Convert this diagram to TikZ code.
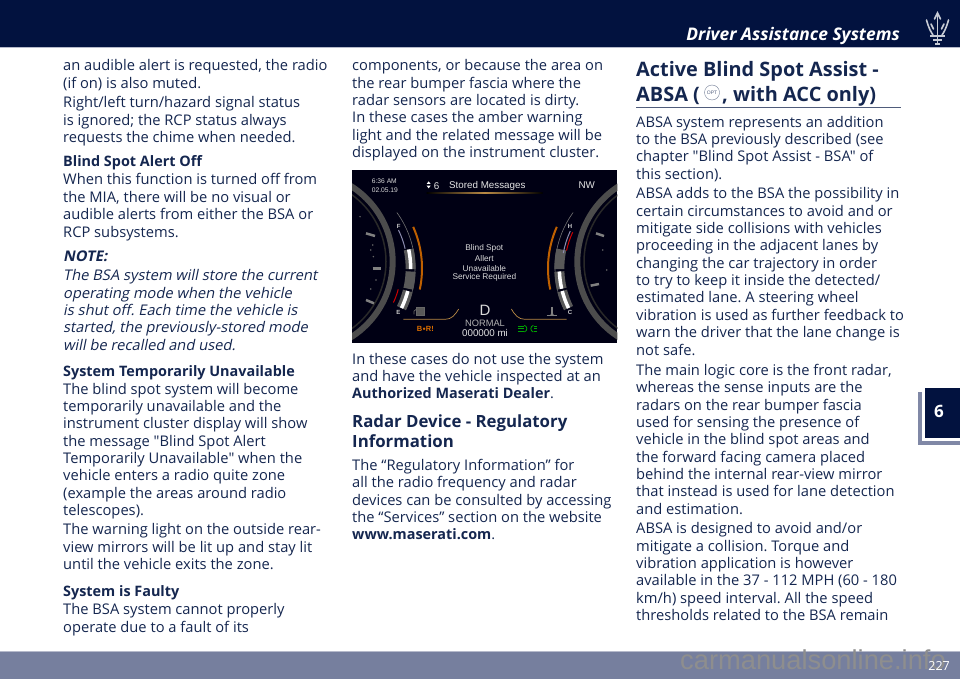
\documentclass[tikz,border=0pt]{standalone}
\usepackage{fontspec}
\setmainfont{Open Sans}[Ligatures=TeXOff]
\newfontfamily\slantfont{Open Sans}[Ligatures=TeXOff,FakeSlant=0.2]
\newfontfamily\clusterfont{Liberation Sans}
\definecolor{navy}{HTML}{02123F}
\definecolor{ink}{HTML}{14264F}
\definecolor{band}{HTML}{767F9E}
\definecolor{bandlight}{HTML}{B6BACB}
\definecolor{shadowtab}{HTML}{8088A6}
\definecolor{amberline}{HTML}{B98A45}
\definecolor{markgrey}{HTML}{8E8E8E}
\newcounter{tl}
\newcommand{\bodyline}[3]{\stepcounter{tl}\node[bodytext] (tl\arabic{tl}) at (#1,#2) {#3};}
\tikzset{
  every node/.append style={execute at begin node=\frenchspacing},
  bodytext/.style={anchor=base west,inner sep=0pt,text=ink,font=\fontsize{14.7}{16}\selectfont},
  subhead/.style={bodytext,font=\fontsize{14.4}{16}\selectfont\bfseries},
  headbig/.style={bodytext,font=\fontsize{19.9}{22}\selectfont\bfseries},
  headmid/.style={bodytext,font=\fontsize{16.8}{20}\selectfont\bfseries},
  ctext/.style={inner sep=0pt,text=#1,font=\clusterfont\fontsize{8.3}{9}\selectfont},
  ctext/.default=white,
}
\begin{document}
\begin{tikzpicture}[x=1pt,y=-1pt]
\useasboundingbox (0,0) rectangle (960,679);
% bands
\fill[navy] (0,0) rectangle (960,47.5);
\fill[bandlight] (0,47.5) rectangle (960,48.5);
\fill[band] (0,651) rectangle (960,679);
\fill[bandlight] (0,651) rectangle (960,652);
\node[anchor=base east,inner sep=0pt,text=white,font=\fontsize{17.4}{18}\selectfont\bfseries\itshape] (hdr) at (900,41) {Driver Assistance Systems};
% trident
\begin{scope}[draw=white!78!navy,line width=1.6pt,line cap=round]
\draw (937.5,14) -- (937.5,43);
\draw (934.5,19) -- (937.5,13) -- (940.5,19);
\draw (926.5,20) .. controls (929,29) and (931,32) .. (933,35);
\draw (948.5,20) .. controls (946,29) and (944,32) .. (942,35);
\draw (931,24) -- (933.5,29);
\draw (944,24) -- (941.5,29);
\draw[line width=2.8pt,line cap=butt] (930,36) -- (945,36);
\draw[line width=1.5pt,line cap=butt] (933,40) -- (942,40);
\draw[line width=1.5pt,line cap=butt] (935,44) -- (940,44);
\end{scope}
% footer
\node[anchor=base west,inner sep=0pt,text=markgrey,font=\clusterfont\fontsize{27.3}{28}\selectfont] (wm) at (680,669) {carmanualsonline.info};
\node[anchor=base east,inner sep=0pt,text=white,font=\fontsize{12.5}{14}\selectfont] (pg) at (950,670.5) {227};
% tab
\fill[shadowtab] (918,392) rectangle (960,445);
\fill[white] (922,386) rectangle (960,440.5);
\fill[navy] (925,388) rectangle (960,438);
\node[inner sep=0pt,text=white,font=\fontsize{17}{19}\selectfont\bfseries] (tabsix) at (939,411) {6};
% column 1
\bodyline{63}{71}{an audible alert is requested, the radio}
\bodyline{63}{88.4}{(if on) is also muted.}
\bodyline{63}{108}{Right/left turn/hazard signal status}
\bodyline{63}{125.4}{is ignored; the RCP status always}
\bodyline{63}{142.7}{requests the chime when needed.}
\node[subhead] (c1a) at (63,167) {Blind Spot Alert Off};
\bodyline{63}{185}{When this function is turned off from}
\bodyline{63}{202.3}{the MIA, there will be no visual or}
\bodyline{63}{219.7}{audible alerts from either the BSA or}
\bodyline{63}{237}{RCP subsystems.}
\node[bodytext,font=\fontsize{14.7}{16}\slantfont\bfseries] (c1b) at (63,261.7) {NOTE:};
\begin{scope}[bodytext/.append style={font=\fontsize{14.7}{16}\slantfont}]
\bodyline{63}{280.7}{The BSA system will store the current}
\bodyline{63}{298}{operating mode when the vehicle}
\bodyline{63}{315.4}{is shut off. Each time the vehicle is}
\bodyline{63}{332.7}{started, the previously-stored mode}
\bodyline{63}{350}{will be recalled and used.}
\end{scope}
\node[subhead] (c1c) at (63,376) {System Temporarily Unavailable};
\bodyline{63}{394}{The blind spot system will become}
\bodyline{63}{411.4}{temporarily unavailable and the}
\bodyline{63}{428.7}{instrument cluster display will show}
\bodyline{63}{446}{the message "Blind Spot Alert}
\bodyline{63}{463.4}{Temporarily Unavailable" when the}
\bodyline{63}{480.7}{vehicle enters a radio quite zone}
\bodyline{63}{498}{(example the areas around radio}
\bodyline{63}{515.4}{telescopes).}
\bodyline{63}{534.5}{The warning light on the outside rear-}
\bodyline{63}{552}{view mirrors will be lit up and stay lit}
\bodyline{63}{569.4}{until the vehicle exits the zone.}
\node[subhead] (c1d) at (63,596) {System is Faulty};
\bodyline{63}{614.5}{The BSA system cannot properly}
\bodyline{63}{632}{operate due to a fault of its}
% column 2
\bodyline{352}{71}{components, or because the area on}
\bodyline{352}{88.4}{the rear bumper fascia where the}
\bodyline{352}{105.7}{radar sensors are located is dirty.}
\bodyline{352}{123}{In these cases the amber warning}
\bodyline{352}{140.4}{light and the related message will be}
\bodyline{352}{157.7}{displayed on the instrument cluster.}
\bodyline{352}{364}{In these cases do not use the system}
\bodyline{352}{381.4}{and have the vehicle inspected at an}
\node[subhead] (c2a) at (352,398.7) {Authorized Maserati Dealer\textmd{.}};
\node[headmid] (h2a) at (352,427) {Radar Device - Regulatory};
\node[headmid] (h2b) at (352,447) {Information};
\bodyline{352}{470.4}{The “Regulatory Information” for}
\bodyline{352}{487.8}{all the radio frequency and radar}
\bodyline{352}{505.1}{devices can be consulted by accessing}
\bodyline{352}{522.5}{the “Services” section on the website}
\node[subhead] (c2b) at (352,539.8) {www.maserati.com\textmd{.}};
% column 3
\node[headbig] (h3a) at (636,76.5) {Active Blind Spot Assist -};
\node[headbig] (h3b) at (636,101.5) {ABSA (};
\node[headbig] (h3c) at (722,101.5) {, with ACC only)};
\node[draw=ink!60,line width=0.4pt,circle,minimum size=15pt,inner sep=0pt,text=ink!75,font=\clusterfont\fontsize{5}{5}\selectfont] (opt) at (712,92.5) {OPT};
\coordinate (ruleL) at (636,107.3);
\coordinate (ruleR) at (901,107.3);
\draw[ink!75,line width=0.9pt] (ruleL) -- (ruleR);
\bodyline{636}{127.3}{ABSA system represents an addition}
\bodyline{636}{144.5}{to the BSA previously described (see}
\bodyline{636}{161.8}{chapter "Blind Spot Assist - BSA" of}
\bodyline{636}{179.3}{this section).}
\bodyline{636}{198.7}{ABSA adds to the BSA the possibility in}
\bodyline{636}{216}{certain circumstances to avoid and or}
\bodyline{636}{233.3}{mitigate side collisions with vehicles}
\bodyline{636}{250.7}{proceeding in the adjacent lanes by}
\bodyline{636}{268.4}{changing the car trajectory in order}
\bodyline{636}{285.7}{to try to keep it inside the detected/}
\bodyline{636}{302.9}{estimated lane. A steering wheel}
\bodyline{636}{320.2}{vibration is used as further feedback to}
\bodyline{636}{337.6}{warn the driver that the lane change is}
\bodyline{636}{355}{not safe.}
\bodyline{636}{375.3}{The main logic core is the front radar,}
\bodyline{636}{392.7}{whereas the sense inputs are the}
\bodyline{636}{410}{radars on the rear bumper fascia}
\bodyline{636}{427.3}{used for sensing the presence of}
\bodyline{636}{444.7}{vehicle in the blind spot areas and}
\bodyline{636}{462}{the forward facing camera placed}
\bodyline{636}{479.3}{behind the internal rear-view mirror}
\bodyline{636}{496.7}{that instead is used for lane detection}
\bodyline{636}{514}{and estimation.}
\bodyline{636}{533.7}{ABSA is designed to avoid and/or}
\bodyline{636}{551}{mitigate a collision. Torque and}
\bodyline{636}{568.3}{vibration application is however}
\bodyline{636}{585.7}{available in the 37 - 112 MPH (60 - 180}
\bodyline{636}{603}{km/h) speed interval. All the speed}
\bodyline{636}{620.3}{thresholds related to the BSA remain}
% cluster photo, drawn in 3x coordinates
\begin{scope}[shift={(350,165)},x=0.33333pt,y=-0.33333pt]
\fill[black!92!blue] (6,15) rectangle (802,535);
\begin{scope}
\clip (6,15) rectangle (802,535);
\foreach \cx/\sgn in {-140/1,950/-1}{
  \draw[black!70,line width=6pt] (\cx,290) circle[radius=268];
  \draw[black!84,line width=1.5pt] (\cx,290) circle[radius=248];
}
\foreach \xa/\ya/\xb/\yb in {48/205/75/213,68/310/92/310,48/405/72/415,738/205/762/213,722/362/747/357}
  \draw[black!50,line width=2.5pt] (\xa,\ya) -- (\xb,\yb);
\foreach \xa/\ya in {68/240,62/255,70/275,78/345,62/372,30/155,758/255,770/315}
  \fill[black!60] (\xa,\ya) circle[radius=2.5];
% gauges, right one mirrored
\foreach \mir/\pos in {1/0,-1/810}{
\begin{scope}[xshift={\pos*0.33333pt},xscale=\mir]
  \draw[orange!75!black,line width=2pt] (-90,310) ++(-24:306) arc[start angle=-24,end angle=12,radius=306];
  \draw[black!55,line width=0.6pt] (-90,310) ++(-36:285) arc[start angle=-36,end angle=26,radius=285];
\end{scope}}
\begin{scope}
\foreach \sa/\sb/\wa in {-12/0.5/1, 2/13/0, 14.5/26/1}{
  \draw[black!65,line width=10pt] (-90,310) ++(\sa:272) arc[start angle=\sa,end angle=\sb,radius=272];
  \ifnum\wa=1 \draw[white,line width=3.5pt] (-90,310) ++(\sa:272) arc[start angle=\sa,end angle=\sb,radius=272];\fi
}
\draw[red!80!black,line width=1pt] (-90,310) ++(15:243) arc[start angle=15,end angle=25,radius=243];
\draw[blue!30!black!45,line width=1pt] (-90,310) ++(-26:262) arc[start angle=-26,end angle=-13,radius=262];
\end{scope}
\begin{scope}[xshift={810*0.33333pt},xscale=-1]
\foreach \sa/\sb/\wa in {-12/0.5/0, 2/13/1, 14.5/26/1}{
  \draw[black!65,line width=10pt] (-90,310) ++(\sa:272) arc[start angle=\sa,end angle=\sb,radius=272];
  \ifnum\wa=1 \draw[white,line width=3.5pt] (-90,310) ++(\sa:272) arc[start angle=\sa,end angle=\sb,radius=272];\fi
}
\draw[red!80!black,line width=1pt] (-90,310) ++(-25:256) arc[start angle=-25,end angle=-12,radius=256];
\draw[blue!30!black!45,line width=1pt] (-90,310) ++(-25:264) arc[start angle=-25,end angle=-10,radius=264];
\end{scope}
\end{scope}
% amber rule lines
\shade[left color=black,right color=black,middle color=amberline] (230,84) rectangle (578,87);
\coordinate (amLa) at (160,463);
\coordinate (amLb) at (285,463);
\coordinate (amLc) at (326,432);
\coordinate (amRa) at (650,463);
\coordinate (amRb) at (525,463);
\coordinate (amRc) at (484,432);
\draw[amberline,line width=0.7pt] (amLa) -- (amLb) .. controls (305,463) and (315,450) .. (amLc);
\draw[amberline,line width=0.7pt] (amRa) -- (amRb) .. controls (505,463) and (495,450) .. (amRc);
% top row
\node[ctext=black!15,anchor=west,font=\clusterfont\fontsize{6.7}{7}\selectfont] (ctime) at (65,48) {6:36 AM};
\node[ctext=black!15,anchor=west,font=\clusterfont\fontsize{6.7}{7}\selectfont] (cdate) at (65,75) {02.05.19};
\fill[white] (230,57) -- (236,49) -- (242,57) -- cycle;
\fill[white] (230,62) -- (236,70) -- (242,62) -- cycle;
\node[ctext=black!10,anchor=west,font=\clusterfont\fontsize{9.8}{10}\selectfont] (csix) at (251,62) {6};
\node[ctext=black!10,anchor=west,font=\clusterfont\fontsize{9.8}{10}\selectfont] (cmsg) at (297,62) {Stored Messages};
\node[ctext=black!10,font=\clusterfont\fontsize{9.8}{10}\selectfont] (cnw) at (710,60) {NW};
% scale letters
\node[ctext=black!20,font=\clusterfont\bfseries\fontsize{6}{6}\selectfont] (cF) at (146,183) {F};
\node[ctext=black!20,font=\clusterfont\bfseries\fontsize{6}{6}\selectfont] (cE) at (145,442) {E};
\node[ctext=black!20,font=\clusterfont\bfseries\fontsize{6}{6}\selectfont] (cH) at (660,183) {H};
\node[ctext=black!20,font=\clusterfont\bfseries\fontsize{6}{6}\selectfont] (cC) at (660,442) {C};
% message
\node[ctext=black!15] (m1) at (403,251) {Blind Spot};
\node[ctext=black!15] (m2) at (403,281) {Allert};
\node[ctext=black!15] (m3) at (403,310) {Unavailable};
\node[ctext=black!15] (m4) at (403,338) {Service Required};
% bottom
\node[ctext=black!15,font=\clusterfont\fontsize{15}{16}\selectfont] (cgear) at (405,437) {D};
\node[ctext=black!30,font=\clusterfont\fontsize{9.3}{10}\selectfont] (cmode) at (405,475) {NORMAL};
\node[ctext=black!10,font=\clusterfont\fontsize{9.8}{10}\selectfont] (codo) at (405,505) {000000 mi};
\node[ctext=orange!85!black,font=\clusterfont\bfseries\fontsize{7.5}{8}\selectfont] (cbsm) at (226,491) {B\raisebox{0.5pt}{\tiny$\bullet$}R!};
% fuel and temperature pictograms
\draw[black!60,line width=0.7pt,fill=black!65] (200,426) rectangle (222,450);
\draw[black!60,line width=0.7pt] (200,432) -- (192,438) -- (192,448);
\draw[black!50,line width=1.3pt] (606,426) -- (606,446);
\fill[black!50] (606,448) circle[radius=5];
\draw[black!50,line width=1pt] (590,453) -- (622,453);
% green light icon
\draw[green!65!black,line width=0.8pt] (523,481) .. controls (533,484) and (533,498) .. (523,501);
\draw[green!65!black,line width=0.8pt] (550,481) .. controls (540,484) and (540,498) .. (550,501);
\foreach \yy in {484,491,498}{
  \draw[green!65!black,line width=0.8pt] (505,\yy) -- (521,\yy);
  \draw[green!65!black,line width=0.8pt] (552,\yy) -- (562,\yy);
}
\end{scope}
\end{tikzpicture}
\end{document}
